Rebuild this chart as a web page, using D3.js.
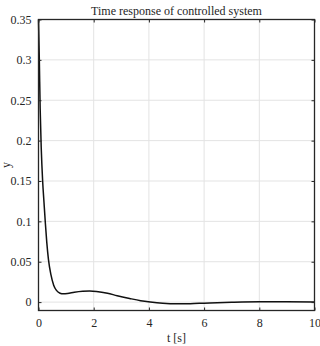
<!DOCTYPE html>
<html><head><meta charset="utf-8">
<script src="https://cdn.jsdelivr.net/npm/d3@7/dist/d3.min.js"></script>
<style>body{margin:0;background:#fff}svg{display:block}svg text{font-family:"Liberation Serif","Times New Roman",serif !important;fill:#262626}</style>
</head><body><svg id="c" width="320" height="346"></svg>
<script>
const tVals=[0,0.03,0.06,0.1,0.15,0.2,0.25,0.3,0.36,0.45,0.55,0.65,0.78,0.9,1.05,1.3,1.6,1.85,2.1,2.5,2.85,3.3,3.7,4.05,4.5,5.0,5.5,6.0,7.0,8.0,9.0,10];
const yVals=[0.35,0.30,0.24,0.19,0.15,0.123,0.097,0.074,0.053,0.034,0.021,0.0145,0.011,0.0102,0.0106,0.0122,0.0134,0.0137,0.0132,0.011,0.0079,0.0045,0.0018,0.0002,-0.0013,-0.002,-0.0019,-0.0013,-0.0002,0.0004,0.0003,0.0];
const xTicks=[0,2,4,6,8,10];
const yTicks=[0,0.05,0.1,0.15,0.2,0.25,0.3,0.35];
const title="Time response of controlled system";
const xLabel="t [s]", yLabel="y";

const L=38.5,R=314.5,T=19.5,B=310.5;
const svg=d3.select("#c");
const x=d3.scaleLinear().domain([0,10]).range([L,R]);
const y=d3.scaleLinear().domain([-0.0104,0.35]).range([B,T]);
const FF="'Liberation Serif', 'Times New Roman', serif";

const g=svg.append("g");
g.selectAll(".gx").data(xTicks).enter().append("line")
 .attr("x1",d=>x(d)).attr("x2",d=>x(d)).attr("y1",T).attr("y2",B)
 .attr("stroke","#e3e3e3").attr("stroke-width",1);
g.selectAll(".gy").data(yTicks).enter().append("line")
 .attr("y1",d=>y(d)).attr("y2",d=>y(d)).attr("x1",L).attr("x2",R)
 .attr("stroke","#e3e3e3").attr("stroke-width",1);

const line=d3.line().x(d=>x(d[0])).y(d=>y(d[1])).curve(d3.curveMonotoneX);
svg.append("path").datum(tVals.map((t,i)=>[t,yVals[i]]))
 .attr("d",line).attr("fill","none").attr("stroke","#111").attr("stroke-width",1.5);

const ax=svg.append("g").attr("transform",`translate(0,${B})`)
 .call(d3.axisBottom(x).tickValues(xTicks).tickSizeInner(-3).tickSizeOuter(0).tickPadding(8).tickFormat(d3.format("d")));
const ay=svg.append("g").attr("transform",`translate(${L},0)`)
 .call(d3.axisLeft(y).tickValues(yTicks).tickSizeInner(-3).tickSizeOuter(0).tickPadding(7).tickFormat(d=>d===0?"0":String(d)));
const at=svg.append("g").attr("transform",`translate(0,${T})`)
 .call(d3.axisTop(x).tickValues(xTicks).tickSizeInner(-3).tickSizeOuter(0).tickFormat(""));
const ar=svg.append("g").attr("transform",`translate(${R},0)`)
 .call(d3.axisRight(y).tickValues(yTicks).tickSizeInner(-3).tickSizeOuter(0).tickFormat(""));
[ax,ay,at,ar].forEach(a=>{
 a.attr("font-family",FF).attr("font-size",12);
 a.select(".domain").remove();
 a.selectAll(".tick line").attr("stroke","#262626").attr("stroke-width",1);
 a.selectAll(".tick text").style("font-family",FF).style("font-size","12px").attr("fill","#262626");
});
svg.append("rect").attr("x",L).attr("y",T).attr("width",R-L).attr("height",B-T)
 .attr("fill","none").attr("stroke","#262626").attr("stroke-width",1.3);

svg.append("text").attr("x",(L+R)/2).attr("y",15).attr("text-anchor","middle").style("font-family",FF).style("font-size","12px").text(title);
svg.append("text").attr("x",(L+R)/2).attr("y",342).attr("text-anchor","middle").style("font-family",FF).style("font-size","12px").text(xLabel);
svg.append("text").attr("transform","translate(10,165) rotate(-90)").attr("text-anchor","middle").style("font-family",FF).style("font-size","12px").text(yLabel);
</script></body></html>
